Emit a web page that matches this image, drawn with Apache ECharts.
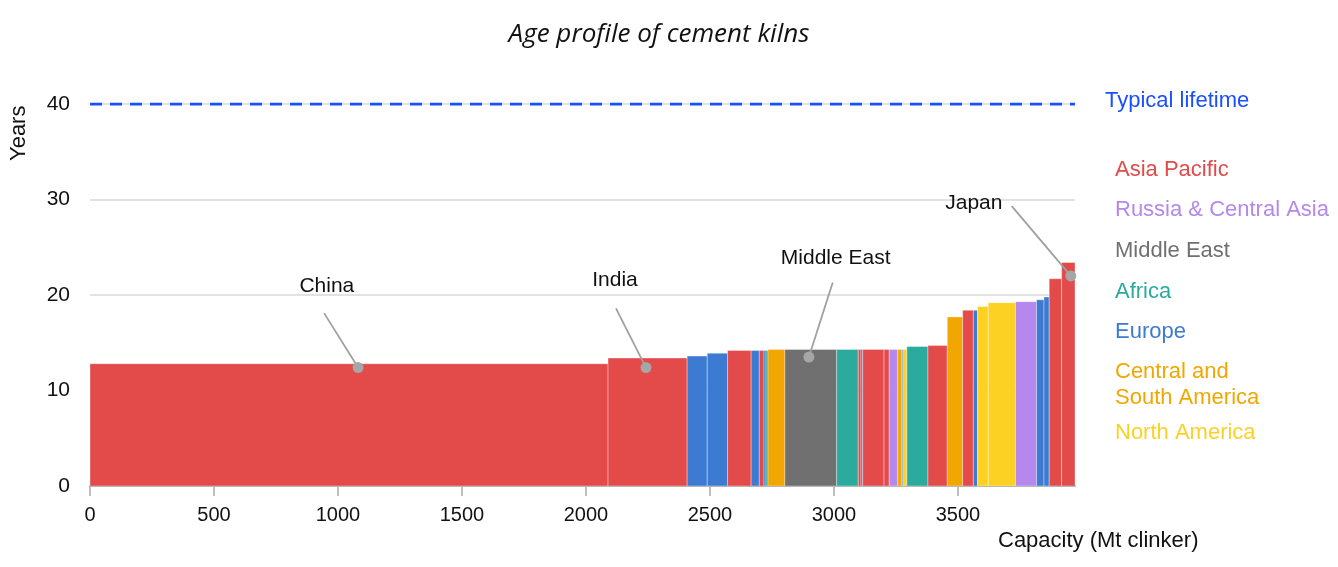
<!DOCTYPE html>
<html><head><meta charset="utf-8">
<script src="https://cdn.jsdelivr.net/npm/echarts@6/dist/echarts.min.js"></script>
<style>html,body{margin:0;padding:0;background:#fff}#c{width:1338px;height:567px}</style>
</head><body><div id="c"></div>
<script>
// ---- data ----
var widths = [2089,319,81,82,95,33,19,8,8,68,209,87,11,7,86,21,34,16,5,16,85,78,62,43,17,43,110,85,30,21,50,54];
var ages = [12.8,13.4,13.6,13.9,14.2,14.2,14.2,14.2,14.2,14.3,14.3,14.3,14.3,14.3,14.3,14.3,14.3,14.3,14.3,14.3,14.6,14.7,17.7,18.4,18.4,18.8,19.2,19.3,19.5,19.8,21.7,23.4];
var regionOf = ['AP','AP','EU','EU','AP','EU','AP','EU','AF','CSA','ME','AF','AP','EU','AP','AP','RU','CSA','EU','NA','AF','AP','CSA','AP','EU','NA','NA','RU','EU','EU','AP','AP'];
var regionKeys = ['AP','RU','ME','AF','EU','CSA','NA'];
var regionNames = ['Asia Pacific','Russia & Central Asia','Middle East','Africa','Europe','Central and\nSouth America','North America'];
var xTicks = [0,500,1000,1500,2000,2500,3000,3500];
var yTicks = [0,10,20,30,40];
var typicalLifetime = 40;
var totalCapacity = 3972;
// annotations: name, text point, line start, dot point (data coords)
var annNames = ['China','India','Middle East','Japan'];
var annText = [[955,20.9],[2117,21.5],[3007,23.9],[3564,29.6]];
var annLineStart = [[944,18.1],[2121,18.6],[2995,21.3],[3717,29.3]];
var annDot = [[1081,12.4],[2242,12.4],[2899,13.5],[3955,22.0]];

// ---- styles ----
var regionColors = {AP:'#e24b4a',RU:'#b488ec',ME:'#6f706f',AF:'#2aab9d',EU:'#3d7bd3',CSA:'#f2a600',NA:'#fdd124'};
var FONT = '"Liberation Sans", Arial, sans-serif';

var bars = [];
var acc = 0;
for (var i=0;i<widths.length;i++){
  bars.push([acc, acc+widths[i], ages[i], regionOf[i]]);
  acc += widths[i];
}

var chart = echarts.init(document.getElementById('c'), null, {renderer:'canvas'});

var graphics = [
  {type:'text', x:659, y:35, style:{text:'Age profile of cement kilns', font:'italic 26px "Open Sans", sans-serif', fill:'#111', align:'center', verticalAlign:'middle'}},
  {type:'text', x:8, y:161, rotation:Math.PI/2, style:{text:'Years', font:'22px '+FONT, fill:'#111'}},
  {type:'text', x:998, y:530, style:{text:'Capacity (Mt clinker)', font:'22px '+FONT, fill:'#111'}},
  {type:'text', x:1105, y:90, style:{text:'Typical lifetime', font:'22px '+FONT, fill:'#1a4fff'}}
];
var legendY = [157,197,238,279,319,359,420];
for (var k=0;k<regionKeys.length;k++){
  graphics.push({type:'text', x:1115, y:legendY[k], style:{text:regionNames[k], font:'22px '+FONT, fill:regionColors[regionKeys[k]], lineHeight:26}});
}

chart.setOption({
  animation:false,
  grid:{left:90, right:263, top:104, bottom:81},
  xAxis:{type:'value', min:0, max:totalCapacity, interval:500,
    splitLine:{show:false},
    axisLine:{show:true, lineStyle:{color:'#aaaaaa', width:2}},
    axisTick:{show:true, length:10, customValues:xTicks, lineStyle:{color:'#aaaaaa', width:1.5}},
    axisLabel:{customValues:xTicks, color:'#111', fontSize:20, fontFamily:FONT, margin:19,
      formatter:function(v){return String(v);}}
  },
  yAxis:{type:'value', min:0, max:40, interval:10,
    axisLine:{show:false}, axisTick:{show:false},
    splitLine:{lineStyle:{color:'#d9d9d9', width:1.5}},
    axisLabel:{color:'#111', fontSize:21, fontFamily:FONT, margin:20}
  },
  graphic:graphics,
  series:[
    {type:'custom', renderItem:function(params, api){
        var s = api.coord([api.value(0), 0]);
        var e = api.coord([api.value(1), api.value(2)]);
        var c = regionColors[regionOf[params.dataIndex]];
        return {type:'rect', shape:{x:s[0], y:e[1], width:e[0]-s[0], height:s[1]-e[1]},
          style:{fill:c, stroke:'rgba(255,255,255,0.35)', lineWidth:1}};
      },
      encode:{x:[0,1], y:2},
      data:bars.map(function(b){return [b[0],b[1],b[2]];}),
      z:2
    },
    {type:'line', data:[[0,typicalLifetime],[totalCapacity,typicalLifetime]], symbol:'none',
      lineStyle:{color:'#1a4fff', width:3, type:[12,8]}, z:3},
    {type:'custom', renderItem:function(params, api){
        var i = params.dataIndex;
        var t = api.coord(annText[i]);
        var l = api.coord(annLineStart[i]);
        var d = api.coord(annDot[i]);
        return {type:'group', children:[
          {type:'line', shape:{x1:l[0], y1:l[1], x2:d[0], y2:d[1]}, style:{stroke:'#a0a0a0', lineWidth:1.8}},
          {type:'circle', shape:{cx:d[0], cy:d[1], r:5.5}, style:{fill:'#a6a6a6'}},
          {type:'text', x:t[0], y:t[1], style:{text:annNames[i], font:'21px '+FONT, fill:'#111', align:'center', verticalAlign:'middle'}}
        ]};
      },
      data:annDot.map(function(d,i){return [d[0], d[1]];}),
      z:4
    }
  ]
});
</script></body></html>
